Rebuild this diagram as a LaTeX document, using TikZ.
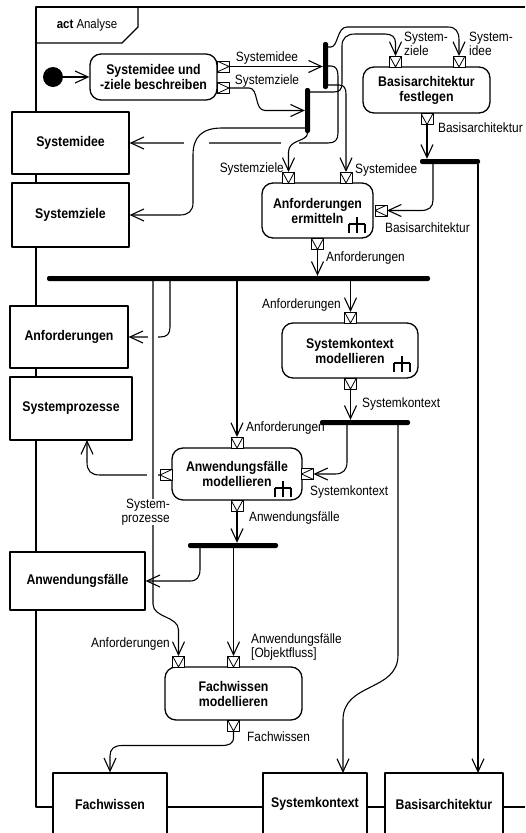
\documentclass[tikz,border=0pt]{standalone}
\usepackage{fontspec}
\setmainfont{Liberation Sans}[FakeStretch=0.88]
\usetikzlibrary{arrows.meta}
% small rake symbol marking a call behaviour action
\newcommand{\rakeat}[2]{%
  \draw[line width=1.1pt] (#1,#2) -- (#1,#2+16)
    (#1-8,#2+7) -- (#1+8,#2+7)
    (#1-8,#2+7) -- (#1-8,#2+16)
    (#1+8,#2+7) -- (#1+8,#2+16);}
\tikzset{
  boxfont/.style={font=\bfseries\fontsize{14}{15}\selectfont},
  actbox/.style={draw, fill=white, rounded corners=11pt, line width=1.3pt, align=center, inner sep=0pt, boxfont},
  objbox/.style={draw, fill=white, line width=1.3pt, align=center, inner sep=0pt, boxfont},
  barnode/.style={fill=black, rounded corners=2pt, inner sep=0pt, minimum size=0pt},
  pinbox/.style={draw, fill=white, line width=1pt, minimum width=12pt, minimum height=11pt, inner sep=0pt, outer sep=0pt},
  pinS/.style={pinbox, path picture={\draw[line width=0.8pt] (path picture bounding box.north west) -- (path picture bounding box.south) -- (path picture bounding box.north east);}},
  pinE/.style={pinbox, path picture={\draw[line width=0.8pt] (path picture bounding box.north west) -- (path picture bounding box.east) -- (path picture bounding box.south west);}},
  pinW/.style={pinbox, path picture={\draw[line width=0.8pt] (path picture bounding box.north east) -- (path picture bounding box.west) -- (path picture bounding box.south east);}},
  lbl/.style={font=\fontsize{13.5}{13.5}\selectfont, inner sep=0pt, align=left},
  flow/.style={line width=1.1pt, -{Straight Barb[length=13pt,width=12pt]}},
}
\begin{document}
\begin{tikzpicture}[x=1pt,y=-1pt,line join=round]
\useasboundingbox (0,0) rectangle (525,833);

% activity frame and its header
\draw[line width=1.3pt] (525,7) -- (36,7) -- (36,807) -- (525,807);
\draw[line width=1.3pt] (36,43) -- (122,43) -- (138,27) -- (138,7);
\node[font=\fontsize{13}{13}\selectfont, inner sep=0pt] (hdr) at (87,25) {\textbf{act} Analyse};

% initial node
\node[circle, fill=black, minimum size=20pt, inner sep=0pt] (init) at (53,77) {};

% actions
\node[actbox, minimum width=127pt, minimum height=46pt] (A1) at (153.5,77) {Systemidee und\\-ziele beschreiben};
\node[actbox, minimum width=127pt, minimum height=46pt] (A2) at (426.5,90) {Basisarchitektur\\festlegen};
\node[actbox, minimum width=111pt, minimum height=55pt] (A3) at (317.5,210.5) {Anforderungen\\ermitteln};
\node[actbox, minimum width=136pt, minimum height=55pt] (A4) at (350,350.5) {Systemkontext\\modellieren};
\node[actbox, minimum width=130pt, minimum height=52pt] (A5) at (237,474) {Anwendungsfälle\\modellieren};
\node[actbox, minimum width=137pt, minimum height=53pt] (A6) at (233.5,693.5) {Fachwissen\\modellieren};
\rakeat{357}{217}
\rakeat{402}{356}
\rakeat{283}{481}

% object nodes (on the frame border)
\node[objbox, minimum width=117pt, minimum height=62pt] (O1) at (70.5,143) {Systemidee};
\node[objbox, minimum width=117pt, minimum height=64pt] (O2) at (70.5,215) {Systemziele};
\node[objbox, minimum width=118pt, minimum height=62pt] (O3) at (69,337) {Anforderungen};
\node[objbox, minimum width=122pt, minimum height=63pt] (O4) at (71,408.5) {Systemprozesse};
\node[objbox, minimum width=135pt, minimum height=58pt] (O5) at (77.5,581) {Anwendungsfälle};
\node[objbox, minimum width=114pt, minimum height=62pt] (O6) at (110,804) {Fachwissen};
\node[objbox, minimum width=104pt, minimum height=62pt] (O7) at (315,804) {Systemkontext};
\node[objbox, minimum width=118pt, minimum height=62pt] (O8) at (444,804) {Basisarchitektur};

% fork bars
\node[barnode, minimum width=5pt, minimum height=47pt] (B1) at (325.5,65.5) {};
\node[barnode, minimum width=5pt, minimum height=45pt] (B2) at (307.5,110.5) {};
\node[barnode, minimum width=60pt, minimum height=5pt] (B3) at (450,161.5) {};
\node[barnode, minimum width=383pt, minimum height=5pt] (B4) at (238.5,278.5) {};
\node[barnode, minimum width=90pt, minimum height=5pt] (B5) at (365,422.5) {};
\node[barnode, minimum width=90pt, minimum height=5pt] (B6) at (233,545.5) {};

% pins
\node[pinE] (P1a) at (223,66.5) {};
\node[pinE] (P1b) at (223,88) {};
\node[pinS] (P2a) at (395.5,61.5) {};
\node[pinS] (P2b) at (459,61.5) {};
\node[pinS] (P2c) at (427,119) {};
\node[pinS] (P3a) at (288.5,177.5) {};
\node[pinS] (P3b) at (346,177.5) {};
\node[pinW] (P3c) at (381,210.5) {};
\node[pinS] (P3d) at (317.5,244) {};
\node[pinS] (P4a) at (350.5,317.5) {};
\node[pinS] (P4b) at (350.5,383.5) {};
\node[pinS] (P5a) at (237,442.5) {};
\node[pinW] (P5b) at (307.5,474) {};
\node[pinW] (P5c) at (166,475) {};
\node[pinS] (P5d) at (237,505.5) {};
\node[pinS] (P6a) at (178.5,661.5) {};
\node[pinS] (P6b) at (233.5,661.5) {};
\node[pinS] (P6c) at (233.5,725.5) {};

% branch points on the bars and line ends on boxes
\coordinate (t1a) at (328,47);
\coordinate (t1b) at (328,66);
\coordinate (t1c) at (328,85);
\coordinate (t2a) at (310,92);
\coordinate (t2b) at (305,128);
\coordinate (t2c) at (307.5,133);
\coordinate (t3a) at (433,164);
\coordinate (t3b) at (478,164);
\coordinate (t4a) at (170,281);
\coordinate (t4b) at (153,281);
\coordinate (t4c) at (237,281);
\coordinate (t4d) at (350.5,281);
\coordinate (t5a) at (347,425);
\coordinate (t5b) at (398,425);
\coordinate (t6a) at (200,548);
\coordinate (t6b) at (233.5,548);
\coordinate (e4) at (87,440);
\coordinate (e7) at (343,773);
\coordinate (e8) at (478,773);

% object flows that are interrupted by crossings
\draw[flow] (t1b) -- (331,66) .. controls (336,66) and (338,70) .. (338,76) -- (338,133) .. controls (338,140) and (335,143) .. (328,143) -- (O1.east);
\draw[flow] (t4a) -- (170,327) .. controls (170,334) and (167,337) .. (160,337) -- (O3.east);
\draw[flow] (P5c.west) -- (100,475) .. controls (91,475) and (87,471) .. (87,462) -- (e4);
\fill[white] (184,139) rectangle (209,147);
\fill[white] (281,139) rectangle (299,147);
\fill[white] (148,333) rectangle (158,341);
\fill[white] (147,471) rectangle (158,479);

% remaining object flows
\draw[flow] (init) -- (A1);
\draw[flow] (P1a.east) -- (B1.west |- P1a.east);
\draw[flow] (P1b.east) -- (249,88) .. controls (259,88) and (254,110.5) .. (265,110.5) -- (B2.west);
\draw[flow] (t1a) -- (331,47) .. controls (338,47) and (337,27) .. (347,27) -- (448,27) .. controls (456,27) and (459,32) .. (459,40) -- (P2b.north);
\draw[flow] (t2a) -- (334,92) .. controls (340,92) and (342,89) .. (342,83) -- (342,46) .. controls (342,38) and (347,34) .. (355,34) -- (385,34) .. controls (392,34) and (395.5,37) .. (395.5,43) -- (P2a.north);
\draw[flow] (t1c) -- (339,85) .. controls (344,85) and (346,88) .. (346,94) -- (P3b.north);
\draw[flow] (t2b) -- (222,128) .. controls (202,128) and (193,137) .. (193,155) -- (193,203) .. controls (193,211) and (188,215) .. (180,215) -- (O2.east);
\draw[flow] (t2c) .. controls (307.5,142) and (288.5,139) .. (288.5,152) -- (P3a.north);
\draw[flow] (P2c.south) -- (P2c.south |- B3.north);
\draw[flow] (t3a) -- (433,200) .. controls (433,207) and (429,210.5) .. (421,210.5) -- (P3c.east);
\draw[flow] (t3b) -- (e8);
\draw[flow] (P3d.south) -- (P3d.south |- B4.north);
\draw[flow] (t4b) -- (153,604) .. controls (153,618) and (178.5,616) .. (178.5,630) -- (P6a.north);
\draw[flow] (t4c) -- (P5a.north);
\draw[flow] (t4d) -- (P4a.north);
\draw[flow] (P4b.south) -- (P4b.south |- B5.north);
\draw[flow] (t5a) -- (347,462) .. controls (347,470) and (343,474) .. (335,474) -- (P5b.east);
\draw[flow] (t5b) -- (398,655) .. controls (398,692) and (343,682) .. (343,720) -- (e7);
\draw[flow] (P5d.south) -- (P5d.south |- B6.north);
\draw[flow] (t6a) -- (200,569) .. controls (200,577) and (197,581) .. (190,581) -- (O5.east);
\draw[flow] (t6b) -- (P6b.north);
\draw[flow] (P6c.south) -- (233.5,737) .. controls (233.5,744) and (229,745.5) .. (221,745.5) -- (122,745.5) .. controls (114,745.5) and (110,749) .. (110,756) -- (O6.north);

% pin labels
\node[lbl] (l1) at (267,58) {Systemidee};
\node[lbl] (l2) at (267,81) {Systemziele};
\node[lbl, anchor=west] (l3) at (404,44) {System-\\ziele};
\node[lbl, anchor=west] (l4) at (469,44) {System-\\idee};
\node[lbl, anchor=west] (l5) at (438,128) {Basisarchitektur};
\node[lbl, anchor=east] (l6) at (284,169) {Systemziele};
\node[lbl, anchor=west] (l7) at (355,170) {Systemidee};
\node[lbl, anchor=west] (l8) at (385,228) {Basisarchitektur};
\node[lbl, anchor=west] (l9) at (326,258) {Anforderungen};
\node[lbl, anchor=east] (l10) at (341,305) {Anforderungen};
\node[lbl, anchor=west] (l11) at (362,404) {Systemkontext};
\node[lbl, anchor=west] (l12) at (246,428) {Anforderungen};
\node[lbl, anchor=west] (l13) at (310,492) {Systemkontext};
\node[lbl, anchor=east, align=right, fill=white] (l14) at (170,512) {System-\\prozesse};
\node[lbl, anchor=west] (l15) at (249,518) {Anwendungsfälle};
\node[lbl, anchor=east] (l16) at (170,644) {Anforderungen};
\node[lbl, anchor=west] (l17) at (251,647) {Anwendungsfälle\\{[Objektfluss]}};
\node[lbl, anchor=west] (l18) at (247,737) {Fachwissen};
\end{tikzpicture}
\end{document}
